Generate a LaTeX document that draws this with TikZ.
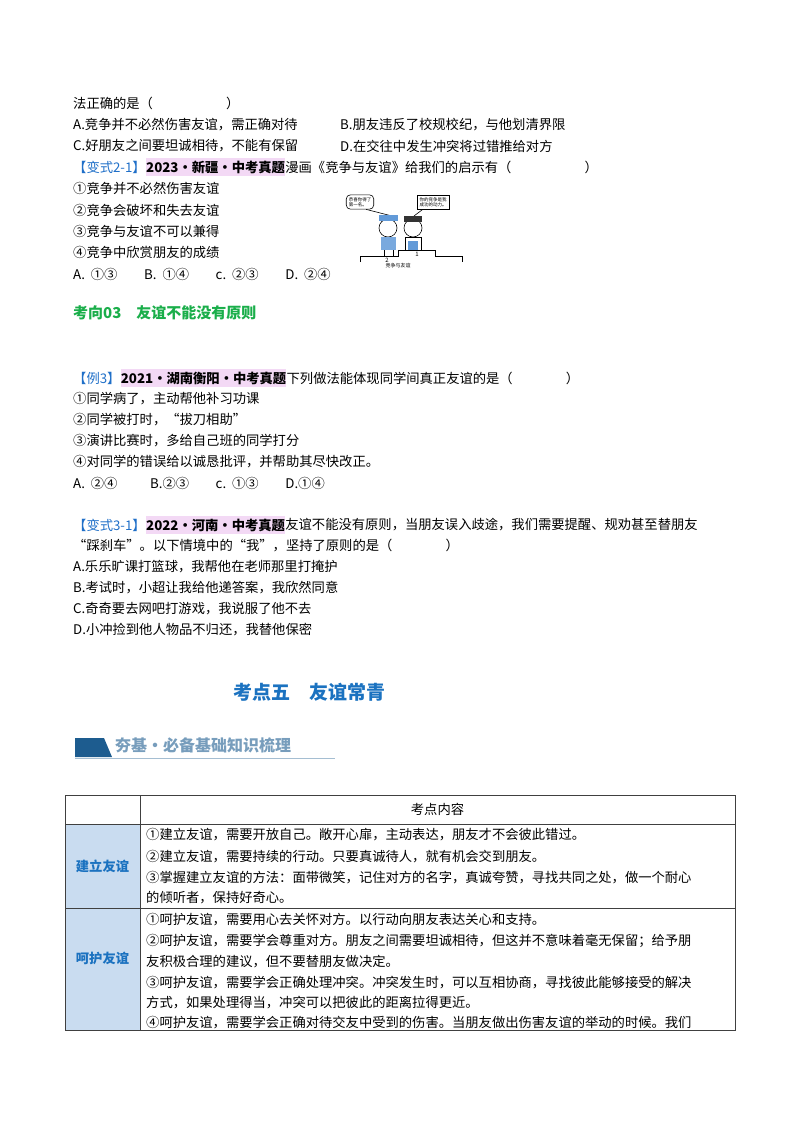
\documentclass[tikz,border=0pt]{standalone}
\usepackage{fontspec}
\setmainfont{Noto Sans CJK SC}
\usetikzlibrary{positioning}
\definecolor{hl}{HTML}{F3D9F5}
\definecolor{tagblue}{HTML}{1F6FC8}
\definecolor{grn}{HTML}{1AAE4A}
\definecolor{kblue}{HTML}{1B72C0}
\definecolor{cellblue}{HTML}{C9DCF0}
\definecolor{bannerblue}{HTML}{1D5C8F}
\begin{document}
\begin{tikzpicture}[x=1pt,y=-1pt,
  t/.style={anchor=west,inner sep=0pt,font=\fontsize{13.3}{16}\selectfont},
  tag/.style={t,text=tagblue},
  hlt/.style={t,fill=hl,inner ysep=2.5pt,font=\fontsize{13.3}{16}\selectfont\bfseries},
  sec/.style={anchor=west,inner sep=0pt,font=\fontsize{15}{18}\selectfont\bfseries,text=grn},
  cell/.style={t},
  grid/.style={draw=black!75,line width=0.8pt}]
\useasboundingbox (0,0) rectangle (800,1132);
% top block
\node[t] (l1) at (73,103) {法正确的是（\hspace{5.5em}）};
\node[t] (a1) at (73,125) {A.竞争并不必然伤害友谊，需正确对待};
\node[t] (b1) at (340,125) {B.朋友违反了校规校纪，与他划清界限};
\node[t] (c1) at (73,146) {C.好朋友之间要坦诚相待，不能有保留};
\node[t] (d1) at (340,146) {D.在交往中发生冲突将过错推给对方};
\node[tag] (v21) at (73,167) {【变式2-1】};
\node[hlt,right=0pt of v21] (v21h) {2023·新疆·中考真题};
\node[t,right=0pt of v21h] (v21b) {漫画《竞争与友谊》给我们的启示有（\hspace{5.5em}）};
\node[t] (o1) at (73,188) {①竞争并不必然伤害友谊};
\node[t] (o2) at (73,210) {②竞争会破坏和失去友谊};
\node[t] (o3) at (73,231) {③竞争与友谊不可以兼得};
\node[t] (o4) at (73,252) {④竞争中欣赏朋友的成绩};
\node[t] (ans1) at (73,274) {A.\ \ ①③\qquad B.\ \ ①④\qquad c.\ \ ②③\qquad D.\ \ ②④};
% cartoon
\begin{scope}[line width=0.6pt]
\node[draw,rounded corners=4pt,font=\fontsize{4.5}{5}\selectfont,align=left,inner sep=2.5pt] (sp1) at (360,202) {恭喜你得了\\第一名。};
\node[draw,font=\fontsize{4.5}{5}\selectfont,align=left,inner sep=2.5pt] (sp2) at (433,202) {你的竞争是我\\成功的动力。};
\draw (sp1.south east) ++(-8,0) -- (392,216);
\draw (sp2.south west) ++(6,0) -- (414,216);
% left boy
\draw[fill=white] (388,228) circle (9);
\fill[tagblue!70] (379,215) rectangle (398,221);
\fill[tagblue!60] (381,237) rectangle (396,250);
\draw (384,250) -- (384,256) (393,250) -- (393,256);
% right boy
\draw[fill=white] (413,228) circle (9);
\fill[black!80] (404,216) rectangle (422,222);
\draw (405,237) rectangle (421,250);
\fill[tagblue!70] (408,241) rectangle (418,250);
% podium
\draw (360,262) -- (360,256) -- (398,256) -- (398,250) -- (435,250) -- (435,256) -- (462,256) -- (462,262);
\node[font=\fontsize{6}{7}\selectfont,inner sep=0pt] (p2) at (387,260) {2};
\node[font=\fontsize{6}{7}\selectfont,inner sep=0pt] (p1) at (417,254) {1};
\node[font=\fontsize{5}{6}\selectfont,inner sep=0pt] (cap) at (398,266) {竞争与友谊};
\end{scope}
% section 03
\node[sec] (s3) at (73,313) {考向03\quad 友谊不能没有原则};
\node[tag] (e3) at (73,378) {【例3】};
\node[hlt,right=0pt of e3] (e3h) {2021·湖南衡阳·中考真题};
\node[t,right=0pt of e3h] (e3b) {下列做法能体现同学间真正友谊的是（\hspace{4em}）};
\node[t] (q1) at (73,399) {①同学病了，主动帮他补习功课};
\node[t] (q2) at (73,420) {②同学被打时，“拔刀相助”};
\node[t] (q3) at (73,441) {③演讲比赛时，多给自己班的同学打分};
\node[t] (q4) at (73,462) {④对同学的错误给以诚恳批评，并帮助其尽快改正。};
\node[t] (ans2) at (73,483) {A.\ \ ②④\qquad\ \ B.②③\qquad c.\ \ ①③\qquad D.①④};
\node[tag] (v31) at (73,525) {【变式3-1】};
\node[hlt,right=0pt of v31] (v31h) {2022·河南·中考真题};
\node[t,right=0pt of v31h] (v31b) {友谊不能没有原则，当朋友误入歧途，我们需要提醒、规劝甚至替朋友};
\node[t] (v31c) at (73,546) {“踩刹车”。以下情境中的“我”，坚持了原则的是（\hspace{4em}）};
\node[t] (r1) at (73,567) {A.乐乐旷课打篮球，我帮他在老师那里打掩护};
\node[t] (r2) at (73,588) {B.考试时，小超让我给他递答案，我欣然同意};
\node[t] (r3) at (73,609) {C.奇奇要去网吧打游戏，我说服了他不去};
\node[t] (r4) at (73,630) {D.小冲捡到他人物品不归还，我替他保密};
% heading
\node[anchor=center,inner sep=0pt,font=\fontsize{19}{22}\selectfont\bfseries,text=kblue] (h5) at (309,692) {考点五\quad 友谊常青};
% banner
\fill[bannerblue] (75,738) -- (104,738) -- (112,757) -- (75,757) -- cycle;
\draw[bannerblue!40,line width=1pt] (75,758) -- (335,758);
\node[anchor=west,inner sep=0pt,font=\fontsize{16}{18}\selectfont\bfseries,text=bannerblue!60] (bt) at (115,745) {夯基·必备基础知识梳理};
% table
\fill[cellblue] (65,824) rectangle (140,1030);
\draw[grid] (65,795) rectangle (735,1030);
\draw[grid] (140,795) -- (140,1030);
\draw[grid] (65,824) -- (735,824);
\draw[grid] (65,908) -- (735,908);
\node[t] (hd) at (437.5,809.5) [anchor=center] {考点内容};
\node[t,anchor=center,text=kblue,font=\fontsize{13.3}{16}\selectfont\bfseries] (k1) at (102.5,866) {建立友谊};
\node[t,anchor=center,text=kblue,font=\fontsize{13.3}{16}\selectfont\bfseries] (k2) at (102.5,958) {呵护友谊};
\node[cell] (c11) at (146,835) {①建立友谊，需要开放自己。敞开心扉，主动表达，朋友才不会彼此错过。};
\node[cell] (c12) at (146,857) {②建立友谊，需要持续的行动。只要真诚待人，就有机会交到朋友。};
\node[cell] (c13) at (146,878) {③掌握建立友谊的方法：面带微笑，记住对方的名字，真诚夸赞，寻找共同之处，做一个耐心};
\node[cell] (c14) at (146,898) {的倾听者，保持好奇心。};
\node[cell] (c21) at (146,920) {①呵护友谊，需要用心去关怀对方。以行动向朋友表达关心和支持。};
\node[cell] (c22) at (146,941) {②呵护友谊，需要学会尊重对方。朋友之间需要坦诚相待，但这并不意味着毫无保留；给予朋};
\node[cell] (c23) at (146,962) {友积极合理的建议，但不要替朋友做决定。};
\node[cell] (c24) at (146,983) {③呵护友谊，需要学会正确处理冲突。冲突发生时，可以互相协商，寻找彼此能够接受的解决};
\node[cell] (c25) at (146,1003) {方式，如果处理得当，冲突可以把彼此的距离拉得更近。};
\node[cell] (c26) at (146,1023) {④呵护友谊，需要学会正确对待交友中受到的伤害。当朋友做出伤害友谊的举动的时候。我们};
\end{tikzpicture}
\end{document}
